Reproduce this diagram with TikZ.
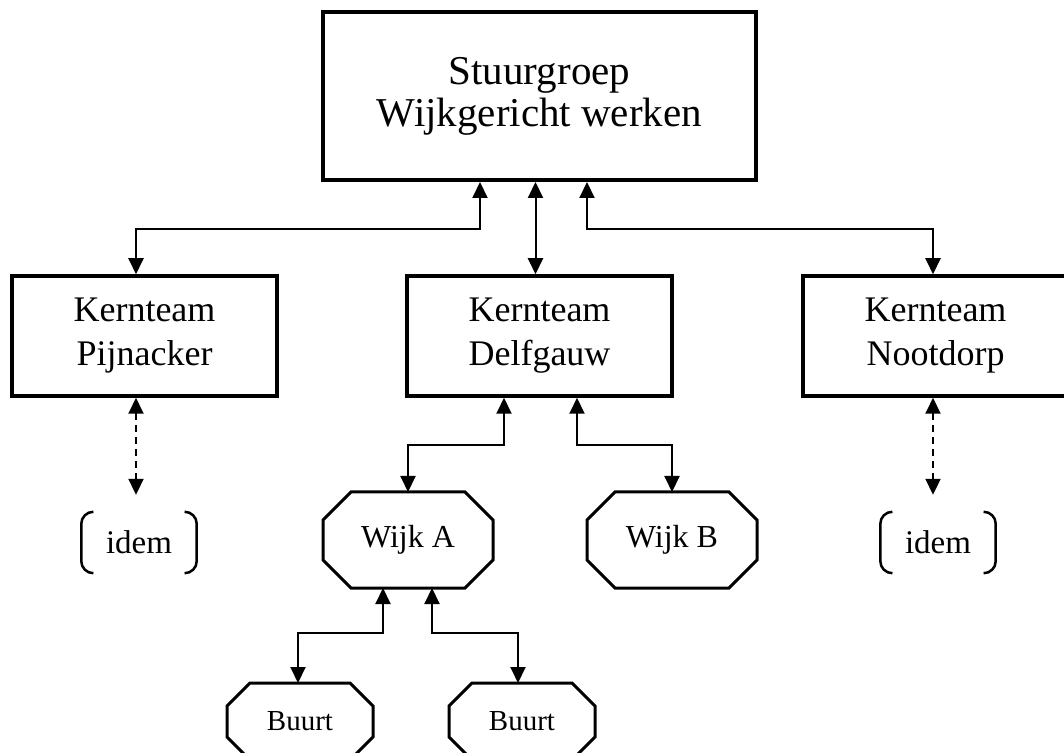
\documentclass[tikz,border=0pt]{standalone}
\usepackage{fontspec}
\setmainfont{Liberation Serif}
\usetikzlibrary{arrows.meta}

\begin{document}
\begin{tikzpicture}[
            x = 1pt, y = 1pt, % one unit per pixel
            tip/.tip = {Triangle[width=15pt,length=16pt]},
            link/.style = {line width=2pt, tip-tip}, % two-way link
            dlink/.style = {link, dash pattern=on 7pt off 5pt},
            box/.style = {draw, rectangle, line width=3.5pt, align=center,
                minimum width=265pt, minimum height=120pt,
                font=\fontsize{36}{44}\selectfont},
            wijk/.style = {rectangle, outer sep=0pt, inner sep=0pt,
                minimum width=170pt, minimum height=96pt,
                font=\fontsize{32}{36}\selectfont},
            buurt/.style = {wijk, minimum width=146pt, minimum height=77pt,
                font=\fontsize{29}{33}\selectfont},
            idem/.style = {rectangle, minimum width=115pt, minimum height=61pt,
                font=\fontsize{33}{36}\selectfont},
            oct/.style = {line width=3pt, line join=miter},
            brk/.style = {line width=2.5pt, rounded corners=12pt}
        ]

    \useasboundingbox (0,0) rectangle (1064,752);

	\node[box, line width=4pt, minimum width=433pt, minimum height=168pt,
	      font=\fontsize{41}{42}\selectfont] (stuur) at (539.5,656)
	      {Stuurgroep\\Wijkgericht werken};

	\node[box] (pijn) at (144.5,416) {Kernteam\\Pijnacker};
	\node[box] (delf) at (539.5,416) {Kernteam\\Delfgauw};
	\node[box] (noot) at (935.5,416) {Kernteam\\Nootdorp};

	\node[wijk] (wijkA) at (408,212) {Wijk A};
	\node[wijk] (wijkB) at (672,212) {Wijk B};

	\node[buurt] (buurtA) at (300,30.5) {Buurt};
	\node[buurt] (buurtB) at (522,30.5) {Buurt};

	\node[idem] (idemA) at (139,209.5) {idem};
	\node[idem] (idemB) at (938,209.5) {idem};

	% octagons round wijk and buurt
	\foreach \n/\c in {wijkA/28, wijkB/28, buurtA/23, buurtB/23} {
	    \draw[oct] ([xshift=\c pt]\n.north west) -- ([xshift=-\c pt]\n.north east)
	        -- ([yshift=-\c pt]\n.north east) -- ([yshift=\c pt]\n.south east)
	        -- ([xshift=-\c pt]\n.south east) -- ([xshift=\c pt]\n.south west)
	        -- ([yshift=\c pt]\n.south west) -- ([yshift=-\c pt]\n.north west) -- cycle;
	}

	% brackets round idem
	\foreach \n in {idemA,idemB} {
	    \draw[brk] ([xshift=11pt]\n.north west) -- (\n.north west)
	        -- (\n.south west) -- ([xshift=11pt]\n.south west);
	    \draw[brk] ([xshift=-11pt]\n.north east) -- (\n.north east)
	        -- (\n.south east) -- ([xshift=-11pt]\n.south east);
	}

	% stuurgroep - kernteams
	\draw[link] ([xshift=-59.5pt]stuur.south) -- ++(0,-47) -| ([xshift=-8.5pt]pijn.north);
	\draw[link] ([xshift=-4pt]stuur.south) -- ([xshift=-4pt]delf.north);
	\draw[link] ([xshift=47.5pt]stuur.south) -- ++(0,-47) -| ([xshift=-2.5pt]noot.north);

	% kernteams - wijken
	\draw[dlink] ([xshift=-8.5pt]pijn.south) -- ([xshift=-3pt,yshift=17pt]idemA.north);
	\draw[link] ([xshift=-35.5pt]delf.south) -- ++(0,-47) -| (wijkA.north);
	\draw[link] ([xshift=37.5pt]delf.south) -- ++(0,-47) -| (wijkB.north);
	\draw[dlink] ([xshift=-2.5pt]noot.south) -- ([xshift=-5pt,yshift=17pt]idemB.north);

	% wijk - buurten
	\draw[link] ([xshift=-25pt]wijkA.south) -- ++(0,-45) -| ([xshift=-2pt]buurtA.north);
	\draw[link] ([xshift=24pt]wijkA.south) -- ++(0,-45) -| ([xshift=-4pt]buurtB.north);

\end{tikzpicture}
\end{document}
